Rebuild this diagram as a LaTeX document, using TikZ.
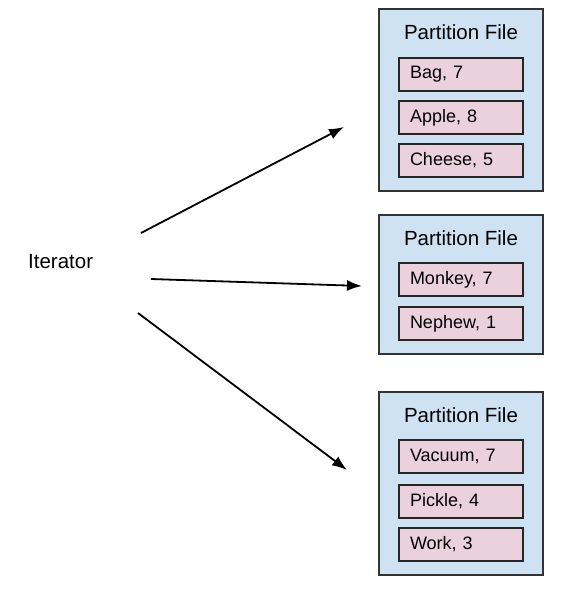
\documentclass[tikz,border=0pt]{standalone}
\usepackage{fontspec}
\setmainfont{Liberation Sans}
\usetikzlibrary{arrows.meta}
\definecolor{fileblue}{HTML}{CFE2F3}
\definecolor{itempink}{HTML}{EAD1DC}
\definecolor{edgegray}{HTML}{333333}
\begin{document}
\begin{tikzpicture}[x=1pt,y=-1pt,
  filebox/.style={draw=edgegray,line width=1.5pt,fill=fileblue,minimum width=164pt,inner sep=0pt},
  itembox/.style={draw=black!85,line width=2pt,fill=itempink,minimum width=124pt,minimum height=33pt,inner sep=0pt,text width=102pt,align=left,font=\fontsize{18}{21}\selectfont},
  titletext/.style={font=\fontsize{20.5}{24}\selectfont,inner sep=0pt},
  flow/.style={line width=1.8pt,-{Latex[length=15pt,width=11pt]}}]
\useasboundingbox (0,0) rectangle (566,595);
% file boxes
\node[filebox,minimum height=182pt] (f1) at (461,100) {};
\node[filebox,minimum height=139pt] (f2) at (461,284.5) {};
\node[filebox,minimum height=183pt] (f3) at (461,483.5) {};
% titles
\node[titletext] (t1) at (461,32) {Partition File};
\node[titletext] (t2) at (461,238) {Partition File};
\node[titletext] (t3) at (461,415) {Partition File};
% items
\node[itembox] (i11) at (461,74.5) {Bag, 7};
\node[itembox] (i12) at (461,117.5) {Apple, 8};
\node[itembox] (i13) at (461,160.5) {Cheese, 5};
\node[itembox] (i21) at (461,279.5) {Monkey, 7};
\node[itembox] (i22) at (461,323.5) {Nephew, 1};
\node[itembox] (i31) at (461,456.5) {Vacuum, 7};
\node[itembox] (i32) at (461,501.5) {Pickle, 4};
\node[itembox] (i33) at (461,544.5) {Work, 3};
% iterator
\node[titletext,anchor=west] (it) at (28,262) {Iterator};
% arrow ends
\coordinate (s1) at (141,233);
\coordinate (e1) at (344,127);
\coordinate (s2) at (151,279);
\coordinate (e2) at (362,286);
\coordinate (s3) at (138,313);
\coordinate (e3) at (347,470);
\draw[flow] (s1) -- (e1);
\draw[flow] (s2) -- (e2);
\draw[flow] (s3) -- (e3);
\end{tikzpicture}
\end{document}
